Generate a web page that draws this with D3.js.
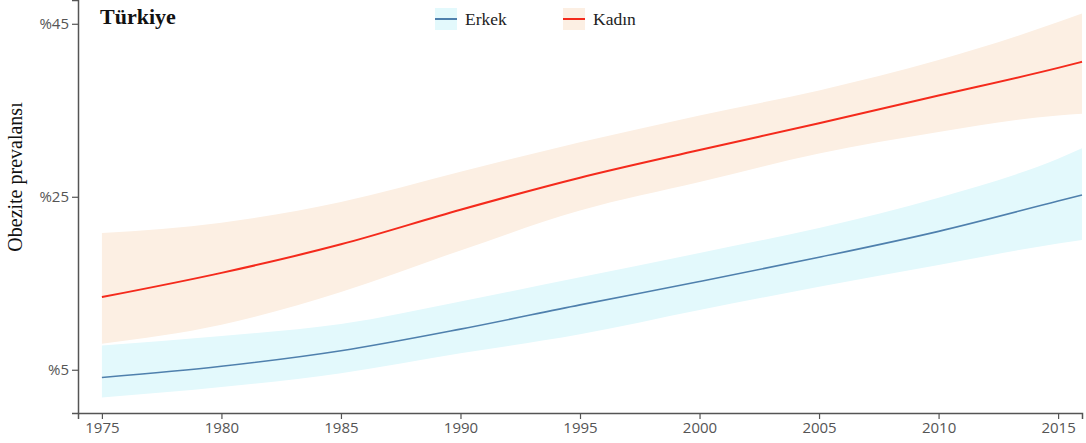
<!DOCTYPE html>
<html>
<head>
<meta charset="utf-8">
<script src="https://cdn.jsdelivr.net/npm/d3@7"></script>
<style>
  html, body { margin: 0; padding: 0; background: #fff; }
  svg { display: block; }
</style>
</head>
<body>
<svg id="chart" width="1086" height="443"></svg>
<script>
// Obesity prevalence estimates (%) with uncertainty bands, Türkiye
const years = [1975, 1980, 1985, 1990, 1995, 2000, 2005, 2010, 2015, 2016];

const kadinMean  = [13.4, 16.2, 19.5, 23.5, 27.2, 30.4, 33.5, 36.7, 39.9, 40.6];
const kadinUpper = [20.8, 22.0, 24.4, 27.9, 31.3, 34.4, 37.3, 40.8, 45.2, 46.2];
const kadinLower = [ 8.0, 10.2, 14.0, 18.8, 23.4, 26.7, 30.0, 32.5, 34.4, 34.6];

const erkekMean  = [ 4.1,  5.4,  7.2,  9.7, 12.5, 15.2, 18.0, 21.0, 24.5, 25.2];
const erkekUpper = [ 7.8,  8.9, 10.3, 12.9, 15.7, 18.5, 21.4, 24.9, 29.4, 30.6];
const erkekLower = [ 1.8,  3.0,  4.6,  6.9,  9.1, 11.9, 14.6, 17.1, 19.6, 20.0];

const xTicks = [1975, 1980, 1985, 1990, 1995, 2000, 2005, 2010, 2015];
const yTicks = [5, 25, 45];

const seriesNames = ["Erkek", "Kadın"];

const svg = d3.select("#chart");
const plotLeft = 78, plotRight = 1082, plotTop = 0, plotBottom = 413;

const x = d3.scaleLinear().domain([1974, 2016]).range([plotLeft, plotRight]);
const y = d3.scaleLinear().domain([0, 47.75]).range([plotBottom, plotTop]);

const series = [
  { name: seriesNames[0], mean: erkekMean, upper: erkekUpper, lower: erkekLower,
    band: "#e3f9fc", line: "#4f80ad", width: 1.6 },
  { name: seriesNames[1], mean: kadinMean, upper: kadinUpper, lower: kadinLower,
    band: "#fcefe3", line: "#f42a1c", width: 2 }
];

const curve = d3.curveMonotoneX;

// uncertainty bands
series.forEach(s => {
  const area = d3.area()
    .x((d, i) => x(years[i]))
    .y0((d, i) => y(s.lower[i]))
    .y1((d, i) => y(s.upper[i]))
    .curve(curve);
  svg.append("path").datum(s.mean).attr("d", area).attr("fill", s.band);
});

// central estimates
series.forEach(s => {
  const line = d3.line()
    .x((d, i) => x(years[i]))
    .y(d => y(d))
    .curve(curve);
  svg.append("path").datum(s.mean).attr("d", line)
    .attr("fill", "none").attr("stroke", s.line).attr("stroke-width", s.width);
});

// axes
const axisColor = "#555";
const gx = svg.append("g").attr("transform", `translate(0,${plotBottom})`)
  .call(d3.axisBottom(x).tickValues(xTicks).tickFormat(d3.format("d")));
const gy = svg.append("g").attr("transform", `translate(${plotLeft},0)`)
  .call(d3.axisLeft(y).tickValues(yTicks).tickFormat(d => "%" + d));

[gx, gy].forEach(g => {
  g.select(".domain").attr("stroke", axisColor).attr("stroke-width", 1.5);
  g.selectAll(".tick line").attr("stroke", axisColor).attr("stroke-width", 1.2);
  g.selectAll(".tick text")
    .attr("fill", "#555")
    .style("font-family", "'Open Sans', sans-serif")
    .style("font-size", "15px");
});

// y-axis title
svg.append("text")
  .attr("transform", `translate(22,177) rotate(-90)`)
  .attr("text-anchor", "middle")
  .style("font-family", "'Liberation Serif', serif")
  .style("font-size", "20px")
  .attr("fill", "#111")
  .text("Obezite prevalansı");

// country title
svg.append("text")
  .attr("x", 100).attr("y", 24)
  .style("font-family", "'Liberation Serif', serif")
  .style("font-size", "22px")
  .style("font-weight", "bold")
  .attr("fill", "#111")
  .text("Türkiye");

// legend
const legendX = [435, 563];
series.forEach((s, i) => {
  const g = svg.append("g").attr("transform", `translate(${legendX[i]},19)`);
  g.append("rect").attr("x", 0).attr("y", -11).attr("width", 22).attr("height", 22).attr("fill", s.band);
  g.append("line").attr("x1", 0).attr("x2", 22).attr("y1", 0).attr("y2", 0)
    .attr("stroke", s.line).attr("stroke-width", 2);
  g.append("text").attr("x", 30).attr("y", 6)
    .style("font-family", "'Liberation Serif', serif")
    .style("font-size", "17.5px")
    .attr("fill", "#222")
    .text(s.name);
});
</script>
</body>
</html>
